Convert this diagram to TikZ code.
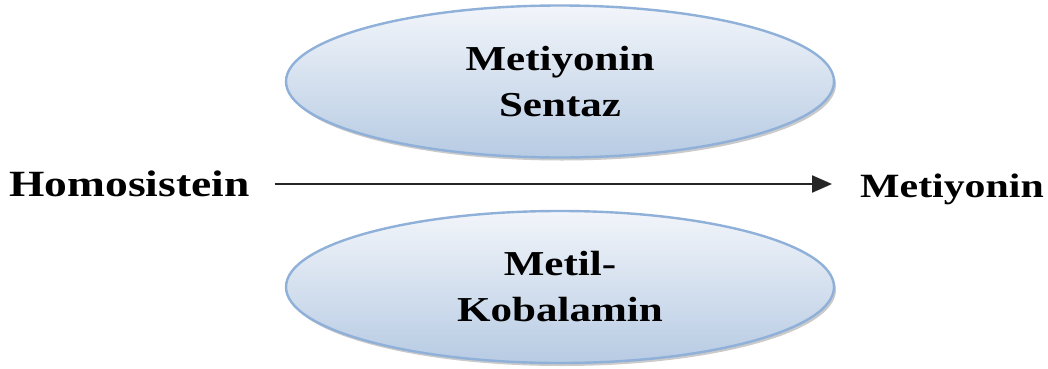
\documentclass[tikz,border=0pt]{standalone}
\usepackage{fontspec}
\setmainfont{Liberation Serif}
\usepackage{graphicx}
\usetikzlibrary{shapes.geometric,arrows.meta,shadows}
\definecolor{ellborder}{HTML}{8FB0D8}
\definecolor{elltop}{HTML}{F2F5FA}
\definecolor{ellbot}{HTML}{B7CBE3}
\newcommand{\wide}[1]{\scalebox{1.23}[1]{#1}}
\tikzset{
  enzyme/.style={ellipse, draw=ellborder, line width=2.4pt, top color=elltop, bottom color=ellbot,
    minimum width=548pt, minimum height=152pt, inner sep=0pt, align=center,
    font=\fontsize{35}{46}\selectfont\bfseries,
    drop shadow={shadow xshift=2pt, shadow yshift=-3pt, opacity=0.35, fill=black!60}},
  sidelabel/.style={inner sep=0pt, text height=24pt, text depth=0pt, font=\bfseries}
}
\begin{document}
\begin{tikzpicture}[x=1pt,y=1pt]
\useasboundingbox (0,0) rectangle (1048,368);
\node[enzyme] (ms) at (560,286.5) {\wide{Metiyonin}\\\wide{Sentaz}};
\node[enzyme] (mk) at (560,81) {\wide{Metil-}\\\wide{Kobalamin}};
\node[sidelabel, font=\fontsize{37}{42}\selectfont\bfseries, anchor=base west] (hs) at (9,172) {\wide{Homosistein}};
\node[sidelabel, font=\fontsize{34}{40}\selectfont\bfseries, anchor=base west] (mt) at (860,171) {\wide{Metiyonin}};
\draw[line width=2.3pt, black!85, -{Triangle[length=20pt,width=17pt]}, shorten <=25pt, shorten >=28pt]
  (hs.east) -- (hs.east -| mt.west);
\end{tikzpicture}
\end{document}
